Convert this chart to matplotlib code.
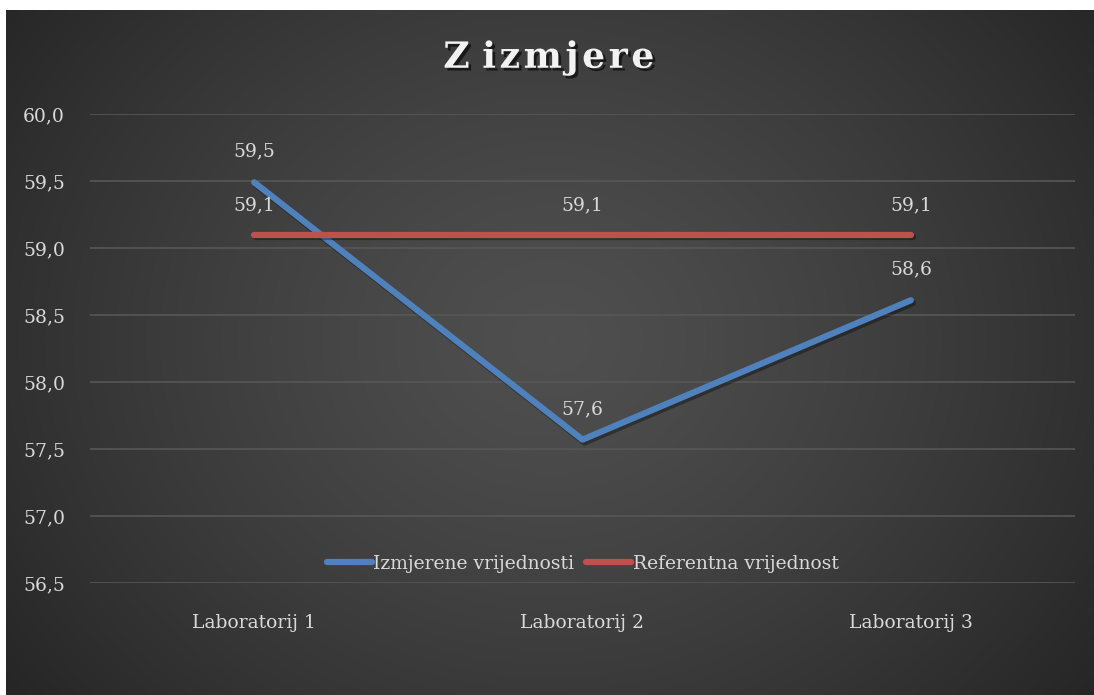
import numpy as np
import matplotlib
matplotlib.use("Agg")
import matplotlib.pyplot as plt
import matplotlib.patheffects as pe

categories = ["Laboratorij 1", "Laboratorij 2", "Laboratorij 3"]
izmjerene = [59.49, 57.57, 58.61]
referentna = [59.10, 59.10, 59.10]
series_names = ["Izmjerene vrijednosti", "Referentna vrijednost"]
yticks = [56.5, 57.0, 57.5, 58.0, 58.5, 59.0, 59.5, 60.0]

W, H = 1094, 695
fig = plt.figure(figsize=(W / 100, H / 100), dpi=100, facecolor="white")

# background with radial gradient
bg = fig.add_axes([6 / W, 0, 1 - 6 / W, 685 / H])
bg.set_axis_off()
ny, nx = 300, 480
yy, xx = np.mgrid[0:ny, 0:nx]
cx, cy = nx * 0.5, ny * 0.48
r = np.sqrt(((xx - cx) / (nx * 0.62)) ** 2 + ((yy - cy) / (ny * 0.85)) ** 2)
r = np.clip(r, 0, 1)
c_in, c_out = 0.31, 0.15
val = c_in + (c_out - c_in) * r ** 1.3
img = np.dstack([val, val, val])
bg.imshow(img, aspect="auto", extent=[0, 1, 0, 1], interpolation="bilinear")
bg.set_xlim(0, 1)
bg.set_ylim(0, 1)

# plot area: x 90..1075, y 114..583 (pixels from top)
left, right, top, bottom = 90, 1075, 114, 583
ax = fig.add_axes([left / W, 1 - bottom / H, (right - left) / W, (bottom - top) / H])
ax.patch.set_alpha(0)
ax.set_ylim(56.5, 60.0)
ax.set_xlim(-0.5, 2.5)
ax.set_yticks(yticks)
ax.set_yticklabels([f"{v:.1f}".replace(".", ",") for v in yticks])
ax.set_xticks(range(len(categories)))
ax.set_xticklabels(categories)
for s in ax.spines.values():
    s.set_visible(False)
ax.grid(axis="y", color="#575757", linewidth=1.2)
ax.set_axisbelow(True)
font = "DejaVu Serif"
fs = 13.5
ax.tick_params(length=0, colors="#d9d9d9", labelsize=fs)
ax.tick_params(axis="y", pad=18)
ax.tick_params(axis="x", pad=22)
for lab in ax.get_xticklabels() + ax.get_yticklabels():
    lab.set_fontfamily(font)

x = np.arange(len(categories))
shadow = [pe.SimpleLineShadow(offset=(1.5, -2), shadow_color="black", alpha=0.35), pe.Normal()]
l1, = ax.plot(x, izmjerene, color="#4f81bd", linewidth=4.5, solid_capstyle="round",
              solid_joinstyle="round", label=series_names[0], path_effects=shadow, zorder=3)
l2, = ax.plot(x, referentna, color="#c0504d", linewidth=4.5, solid_capstyle="round",
              label=series_names[1], path_effects=shadow, zorder=3)

for xi, v in zip(x, izmjerene):
    ax.annotate(f"{v:.1f}".replace(".", ","), (xi, v), xytext=(0, 22), textcoords="offset points",
                ha="center", va="center", color="#d9d9d9", fontsize=fs, fontfamily=font, zorder=4)
for xi, v in zip(x, referentna):
    ax.annotate(f"{v:.1f}".replace(".", ","), (xi, v), xytext=(0, 21), textcoords="offset points",
                ha="center", va="center", color="#d9d9d9", fontsize=fs, fontfamily=font, zorder=4)

leg = ax.legend(handles=[l1, l2], loc="center", bbox_to_anchor=(0.5, (583 - 564) / (bottom - top)),
                ncol=2, frameon=False, handlelength=2.4, handletextpad=0.1,
                columnspacing=0.6, prop={"family": font, "size": fs})
for t in leg.get_texts():
    t.set_color("#d9d9d9")
for h in leg.get_lines():
    h.set_path_effects([])

fig.text(549 / W, 1 - 58 / H, "Z i\u200az\u200am\u200aj\u200ae\u200ar\u200ae", ha="center", va="center",
         fontsize=26, fontweight="bold", fontfamily=font, color="#f2f2f2",
         path_effects=[pe.withSimplePatchShadow(offset=(2, -2), shadow_rgbFace="black", alpha=0.6)])

fig.savefig("out.png", dpi=100, facecolor="white")
